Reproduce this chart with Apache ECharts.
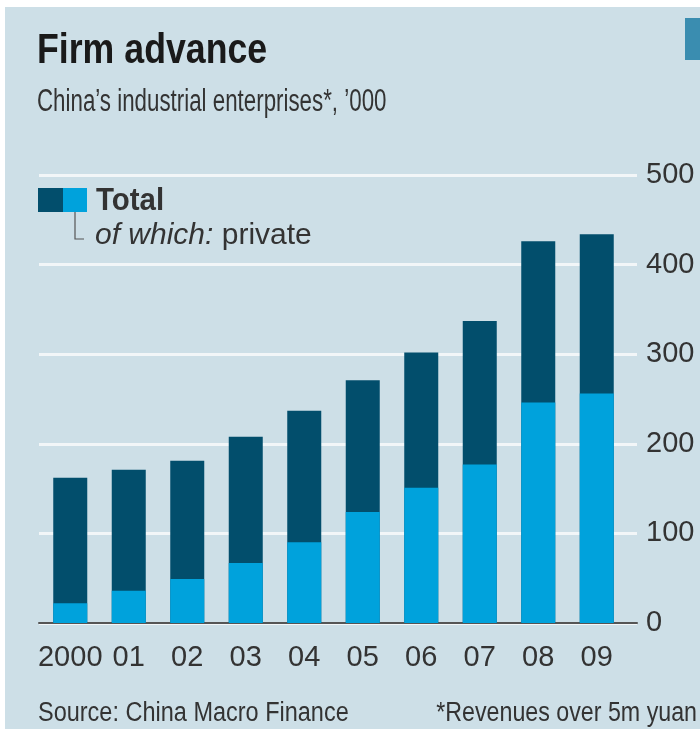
<!DOCTYPE html>
<html>
<head>
<meta charset="utf-8">
<script src="https://cdn.jsdelivr.net/npm/echarts@6/dist/echarts.min.js"></script>
<style>
  html, body { margin: 0; padding: 0; background: #fff; }
  #chart { width: 700px; height: 729px; }
</style>
</head>
<body>
<div id="chart"></div>
<script>
// data, '000 enterprises
const years = ['2000', '01', '02', '03', '04', '05', '06', '07', '08', '09']
const total = [162, 171, 181, 208, 237, 271, 302, 337, 426, 434]
const privateFirms = [22, 36, 49, 67, 90, 124, 151, 177, 246, 256]
const yTicks = [0, 100, 200, 300, 400, 500]

const FONT = "'Liberation Sans', sans-serif"
const TEXT = '#333'
const DARK = '#024e6c'
const LIGHT = '#00a2dc'
const BG = '#cddfe7'

const chart = echarts.init(document.getElementById('chart'))

// text squeezed horizontally, to get close to the condensed house font
// y is the top of the text box
const squeezed = (x, y, text, font, sx, extra) => ({
  type: 'text', x: x, y: y, scaleX: sx,
  style: Object.assign({ text: text, font: font, fill: TEXT, verticalAlign: 'top' }, extra || {})
})

const option = {
  animation: false,
  backgroundColor: '#fff',
  textStyle: { fontFamily: FONT },
  graphic: [
    // panel background
    { type: 'rect', z: -10, shape: { x: 5, y: 7, width: 695, height: 722 }, style: { fill: BG } },
    // tag at top right
    { type: 'rect', shape: { x: 685, y: 18, width: 15, height: 42 }, style: { fill: '#3a8db0' } },
    // legend keys
    { type: 'rect', shape: { x: 38, y: 188, width: 25, height: 24 }, style: { fill: DARK } },
    { type: 'rect', shape: { x: 63, y: 188, width: 24, height: 24 }, style: { fill: LIGHT } },
    { type: 'polyline', shape: { points: [[75, 212], [75, 239], [84, 239]] }, style: { stroke: '#555', lineWidth: 1.2, fill: null } },
    squeezed(96, 186, 'Total', 'bold 31px ' + FONT, 0.95),
    {
      type: 'text', x: 95, y: 236, scaleX: 1.0,
      style: {
        text: '{i|of which:} private',
        verticalAlign: 'middle',
        font: '30px ' + FONT,
        fill: TEXT,
        rich: { i: { fontStyle: 'italic', fontSize: 30, fontFamily: FONT, fill: TEXT } }
      }
    },
    // titles and footnotes
    squeezed(37, 30, 'Firm advance', 'bold 42px ' + FONT, 0.85, { fill: '#1a1a1a' }),
    squeezed(37, 87, 'China\u2019s industrial enterprises*, \u2019000', '31px ' + FONT, 0.72),
    squeezed(38, 700, 'Source: China Macro Finance', '27px ' + FONT, 0.87),
    squeezed(697, 700, '*Revenues over 5m yuan', '27px ' + FONT, 0.86, { align: 'right' })
  ],
  grid: [
    { left: 39, right: 63, top: 175, bottom: 106 },
    { left: 41, right: 74, top: 175, bottom: 106 }
  ],
  xAxis: [
    {
      gridIndex: 0,
      type: 'category',
      data: years,
      axisLine: { lineStyle: { color: '#555', width: 2 } },
      axisTick: { show: false },
      axisLabel: { show: false }
    },
    {
      gridIndex: 1,
      type: 'category',
      data: years,
      axisLine: { show: false },
      axisTick: { show: false },
      axisLabel: { color: TEXT, fontSize: 29, fontFamily: FONT, margin: 20, interval: 0 }
    }
  ],
  yAxis: [
    {
      gridIndex: 0,
      type: 'value',
      position: 'right',
      min: yTicks[0],
      max: yTicks[yTicks.length - 1],
      interval: 100,
      axisLine: { show: false },
      axisTick: { show: false },
      axisLabel: { color: TEXT, fontSize: 29, fontFamily: FONT, margin: 9 },
      splitLine: { lineStyle: { color: '#f2f6f8', width: 3 } }
    },
    {
      gridIndex: 1,
      type: 'value',
      min: yTicks[0],
      max: yTicks[yTicks.length - 1],
      show: false,
      splitLine: { show: false }
    }
  ],
  series: [
    {
      name: 'Total',
      type: 'bar',
      xAxisIndex: 1,
      yAxisIndex: 1,
      data: total,
      barWidth: 34,
      itemStyle: { color: DARK }
    },
    {
      name: 'of which: private',
      type: 'bar',
      xAxisIndex: 1,
      yAxisIndex: 1,
      data: privateFirms,
      barWidth: 34,
      barGap: '-100%',
      itemStyle: { color: LIGHT }
    }
  ]
}

chart.setOption(option)
</script>
</body>
</html>
